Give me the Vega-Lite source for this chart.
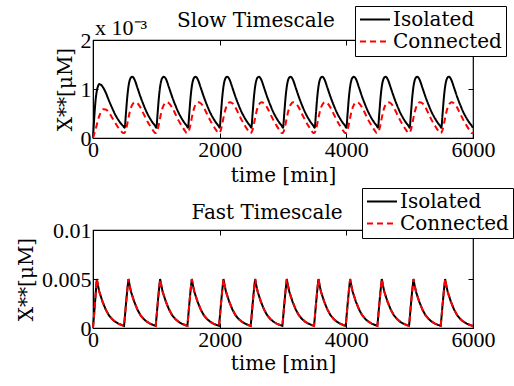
{
"$schema":"https://vega.github.io/schema/vega-lite/v6.json",
"background":"white",
"padding":{"left":15,"top":4,"right":0,"bottom":0},
"config":{
 "font":"DejaVu Serif",
 "view":{"stroke":"black","strokeWidth":1.2},
 "axis":{"grid":false,"domainColor":"black","domainWidth":1,"tickColor":"black","tickSize":-5,"tickWidth":1,"labelColor":"black","labelFont":"Liberation Serif","labelFontSize":22,"labelPadding":6,"labelFlush":false,"labelOverlap":false,"titleColor":"black","titleFont":"DejaVu Serif","titleFontSize":20,"titleFontWeight":"normal"},
 "legend":{"orient":"none","direction":"vertical","strokeColor":"black","fillColor":"white","padding":4,"cornerRadius":0,"labelFont":"DejaVu Serif","labelFontSize":20,"labelColor":"black","symbolType":"stroke","symbolSize":900,"symbolStrokeWidth":2,"clipHeight":19,"rowPadding":1,"labelOffset":2,"labelLimit":300},
 "title":{"font":"DejaVu Serif","fontSize":20,"fontWeight":"normal","color":"black","baseline":"alphabetic"}
},
"datasets":{
"slow":[
{"t":0,"Isolated":0,"Connected":0},
{"t":20,"Isolated":0.00042,"Connected":0.00008},
{"t":40,"Isolated":0.00076,"Connected":0.00017},
{"t":60,"Isolated":0.00096,"Connected":0.00027},
{"t":80,"Isolated":0.00106,"Connected":0.00037},
{"t":100,"Isolated":0.0011,"Connected":0.00045},
{"t":120,"Isolated":0.00109,"Connected":0.00052},
{"t":140,"Isolated":0.00107,"Connected":0.000565},
{"t":160,"Isolated":0.00103,"Connected":0.000585},
{"t":200,"Isolated":0.00093,"Connected":0.00058},
{"t":250,"Isolated":0.00077,"Connected":0.00052},
{"t":300,"Isolated":0.00062,"Connected":0.00042},
{"t":350,"Isolated":0.00048,"Connected":0.00031},
{"t":400,"Isolated":0.00037,"Connected":0.00021},
{"t":450,"Isolated":0.00028,"Connected":0.00013},
{"t":480,"Isolated":0.00024,"Connected":0.0001},
{"t":500,"Isolated":0.00021,"Connected":0.00011},
{"t":520,"Isolated":0.0005,"Connected":0.00017},
{"t":540,"Isolated":0.00082,"Connected":0.00028},
{"t":560,"Isolated":0.00105,"Connected":0.00041},
{"t":580,"Isolated":0.00118,"Connected":0.00053},
{"t":600,"Isolated":0.001235,"Connected":0.00062},
{"t":620,"Isolated":0.00125,"Connected":0.00068},
{"t":640,"Isolated":0.00123,"Connected":0.000715},
{"t":660,"Isolated":0.00118,"Connected":0.00073},
{"t":700,"Isolated":0.00103,"Connected":0.00071},
{"t":750,"Isolated":0.00084,"Connected":0.00062},
{"t":800,"Isolated":0.00067,"Connected":0.00049},
{"t":850,"Isolated":0.00052,"Connected":0.00036},
{"t":900,"Isolated":0.0004,"Connected":0.00025},
{"t":950,"Isolated":0.0003,"Connected":0.00015},
{"t":980,"Isolated":0.00025,"Connected":0.0001},
{"t":1000,"Isolated":0.00021,"Connected":0.00011},
{"t":1020,"Isolated":0.0005,"Connected":0.00017},
{"t":1040,"Isolated":0.00082,"Connected":0.00028},
{"t":1060,"Isolated":0.00105,"Connected":0.00041},
{"t":1080,"Isolated":0.00118,"Connected":0.00053},
{"t":1100,"Isolated":0.001235,"Connected":0.00062},
{"t":1120,"Isolated":0.00125,"Connected":0.00068},
{"t":1140,"Isolated":0.00123,"Connected":0.000715},
{"t":1160,"Isolated":0.00118,"Connected":0.00073},
{"t":1200,"Isolated":0.00103,"Connected":0.00071},
{"t":1250,"Isolated":0.00084,"Connected":0.00062},
{"t":1300,"Isolated":0.00067,"Connected":0.00049},
{"t":1350,"Isolated":0.00052,"Connected":0.00036},
{"t":1400,"Isolated":0.0004,"Connected":0.00025},
{"t":1450,"Isolated":0.0003,"Connected":0.00015},
{"t":1480,"Isolated":0.00025,"Connected":0.0001},
{"t":1500,"Isolated":0.00021,"Connected":0.00011},
{"t":1520,"Isolated":0.0005,"Connected":0.00017},
{"t":1540,"Isolated":0.00082,"Connected":0.00028},
{"t":1560,"Isolated":0.00105,"Connected":0.00041},
{"t":1580,"Isolated":0.00118,"Connected":0.00053},
{"t":1600,"Isolated":0.001235,"Connected":0.00062},
{"t":1620,"Isolated":0.00125,"Connected":0.00068},
{"t":1640,"Isolated":0.00123,"Connected":0.000715},
{"t":1660,"Isolated":0.00118,"Connected":0.00073},
{"t":1700,"Isolated":0.00103,"Connected":0.00071},
{"t":1750,"Isolated":0.00084,"Connected":0.00062},
{"t":1800,"Isolated":0.00067,"Connected":0.00049},
{"t":1850,"Isolated":0.00052,"Connected":0.00036},
{"t":1900,"Isolated":0.0004,"Connected":0.00025},
{"t":1950,"Isolated":0.0003,"Connected":0.00015},
{"t":1980,"Isolated":0.00025,"Connected":0.0001},
{"t":2000,"Isolated":0.00021,"Connected":0.00011},
{"t":2020,"Isolated":0.0005,"Connected":0.00017},
{"t":2040,"Isolated":0.00082,"Connected":0.00028},
{"t":2060,"Isolated":0.00105,"Connected":0.00041},
{"t":2080,"Isolated":0.00118,"Connected":0.00053},
{"t":2100,"Isolated":0.001235,"Connected":0.00062},
{"t":2120,"Isolated":0.00125,"Connected":0.00068},
{"t":2140,"Isolated":0.00123,"Connected":0.000715},
{"t":2160,"Isolated":0.00118,"Connected":0.00073},
{"t":2200,"Isolated":0.00103,"Connected":0.00071},
{"t":2250,"Isolated":0.00084,"Connected":0.00062},
{"t":2300,"Isolated":0.00067,"Connected":0.00049},
{"t":2350,"Isolated":0.00052,"Connected":0.00036},
{"t":2400,"Isolated":0.0004,"Connected":0.00025},
{"t":2450,"Isolated":0.0003,"Connected":0.00015},
{"t":2480,"Isolated":0.00025,"Connected":0.0001},
{"t":2500,"Isolated":0.00021,"Connected":0.00011},
{"t":2520,"Isolated":0.0005,"Connected":0.00017},
{"t":2540,"Isolated":0.00082,"Connected":0.00028},
{"t":2560,"Isolated":0.00105,"Connected":0.00041},
{"t":2580,"Isolated":0.00118,"Connected":0.00053},
{"t":2600,"Isolated":0.001235,"Connected":0.00062},
{"t":2620,"Isolated":0.00125,"Connected":0.00068},
{"t":2640,"Isolated":0.00123,"Connected":0.000715},
{"t":2660,"Isolated":0.00118,"Connected":0.00073},
{"t":2700,"Isolated":0.00103,"Connected":0.00071},
{"t":2750,"Isolated":0.00084,"Connected":0.00062},
{"t":2800,"Isolated":0.00067,"Connected":0.00049},
{"t":2850,"Isolated":0.00052,"Connected":0.00036},
{"t":2900,"Isolated":0.0004,"Connected":0.00025},
{"t":2950,"Isolated":0.0003,"Connected":0.00015},
{"t":2980,"Isolated":0.00025,"Connected":0.0001},
{"t":3000,"Isolated":0.00021,"Connected":0.00011},
{"t":3020,"Isolated":0.0005,"Connected":0.00017},
{"t":3040,"Isolated":0.00082,"Connected":0.00028},
{"t":3060,"Isolated":0.00105,"Connected":0.00041},
{"t":3080,"Isolated":0.00118,"Connected":0.00053},
{"t":3100,"Isolated":0.001235,"Connected":0.00062},
{"t":3120,"Isolated":0.00125,"Connected":0.00068},
{"t":3140,"Isolated":0.00123,"Connected":0.000715},
{"t":3160,"Isolated":0.00118,"Connected":0.00073},
{"t":3200,"Isolated":0.00103,"Connected":0.00071},
{"t":3250,"Isolated":0.00084,"Connected":0.00062},
{"t":3300,"Isolated":0.00067,"Connected":0.00049},
{"t":3350,"Isolated":0.00052,"Connected":0.00036},
{"t":3400,"Isolated":0.0004,"Connected":0.00025},
{"t":3450,"Isolated":0.0003,"Connected":0.00015},
{"t":3480,"Isolated":0.00025,"Connected":0.0001},
{"t":3500,"Isolated":0.00021,"Connected":0.00011},
{"t":3520,"Isolated":0.0005,"Connected":0.00017},
{"t":3540,"Isolated":0.00082,"Connected":0.00028},
{"t":3560,"Isolated":0.00105,"Connected":0.00041},
{"t":3580,"Isolated":0.00118,"Connected":0.00053},
{"t":3600,"Isolated":0.001235,"Connected":0.00062},
{"t":3620,"Isolated":0.00125,"Connected":0.00068},
{"t":3640,"Isolated":0.00123,"Connected":0.000715},
{"t":3660,"Isolated":0.00118,"Connected":0.00073},
{"t":3700,"Isolated":0.00103,"Connected":0.00071},
{"t":3750,"Isolated":0.00084,"Connected":0.00062},
{"t":3800,"Isolated":0.00067,"Connected":0.00049},
{"t":3850,"Isolated":0.00052,"Connected":0.00036},
{"t":3900,"Isolated":0.0004,"Connected":0.00025},
{"t":3950,"Isolated":0.0003,"Connected":0.00015},
{"t":3980,"Isolated":0.00025,"Connected":0.0001},
{"t":4000,"Isolated":0.00021,"Connected":0.00011},
{"t":4020,"Isolated":0.0005,"Connected":0.00017},
{"t":4040,"Isolated":0.00082,"Connected":0.00028},
{"t":4060,"Isolated":0.00105,"Connected":0.00041},
{"t":4080,"Isolated":0.00118,"Connected":0.00053},
{"t":4100,"Isolated":0.001235,"Connected":0.00062},
{"t":4120,"Isolated":0.00125,"Connected":0.00068},
{"t":4140,"Isolated":0.00123,"Connected":0.000715},
{"t":4160,"Isolated":0.00118,"Connected":0.00073},
{"t":4200,"Isolated":0.00103,"Connected":0.00071},
{"t":4250,"Isolated":0.00084,"Connected":0.00062},
{"t":4300,"Isolated":0.00067,"Connected":0.00049},
{"t":4350,"Isolated":0.00052,"Connected":0.00036},
{"t":4400,"Isolated":0.0004,"Connected":0.00025},
{"t":4450,"Isolated":0.0003,"Connected":0.00015},
{"t":4480,"Isolated":0.00025,"Connected":0.0001},
{"t":4500,"Isolated":0.00021,"Connected":0.00011},
{"t":4520,"Isolated":0.0005,"Connected":0.00017},
{"t":4540,"Isolated":0.00082,"Connected":0.00028},
{"t":4560,"Isolated":0.00105,"Connected":0.00041},
{"t":4580,"Isolated":0.00118,"Connected":0.00053},
{"t":4600,"Isolated":0.001235,"Connected":0.00062},
{"t":4620,"Isolated":0.00125,"Connected":0.00068},
{"t":4640,"Isolated":0.00123,"Connected":0.000715},
{"t":4660,"Isolated":0.00118,"Connected":0.00073},
{"t":4700,"Isolated":0.00103,"Connected":0.00071},
{"t":4750,"Isolated":0.00084,"Connected":0.00062},
{"t":4800,"Isolated":0.00067,"Connected":0.00049},
{"t":4850,"Isolated":0.00052,"Connected":0.00036},
{"t":4900,"Isolated":0.0004,"Connected":0.00025},
{"t":4950,"Isolated":0.0003,"Connected":0.00015},
{"t":4980,"Isolated":0.00025,"Connected":0.0001},
{"t":5000,"Isolated":0.00021,"Connected":0.00011},
{"t":5020,"Isolated":0.0005,"Connected":0.00017},
{"t":5040,"Isolated":0.00082,"Connected":0.00028},
{"t":5060,"Isolated":0.00105,"Connected":0.00041},
{"t":5080,"Isolated":0.00118,"Connected":0.00053},
{"t":5100,"Isolated":0.001235,"Connected":0.00062},
{"t":5120,"Isolated":0.00125,"Connected":0.00068},
{"t":5140,"Isolated":0.00123,"Connected":0.000715},
{"t":5160,"Isolated":0.00118,"Connected":0.00073},
{"t":5200,"Isolated":0.00103,"Connected":0.00071},
{"t":5250,"Isolated":0.00084,"Connected":0.00062},
{"t":5300,"Isolated":0.00067,"Connected":0.00049},
{"t":5350,"Isolated":0.00052,"Connected":0.00036},
{"t":5400,"Isolated":0.0004,"Connected":0.00025},
{"t":5450,"Isolated":0.0003,"Connected":0.00015},
{"t":5480,"Isolated":0.00025,"Connected":0.0001},
{"t":5500,"Isolated":0.00021,"Connected":0.00011},
{"t":5520,"Isolated":0.0005,"Connected":0.00017},
{"t":5540,"Isolated":0.00082,"Connected":0.00028},
{"t":5560,"Isolated":0.00105,"Connected":0.00041},
{"t":5580,"Isolated":0.00118,"Connected":0.00053},
{"t":5600,"Isolated":0.001235,"Connected":0.00062},
{"t":5620,"Isolated":0.00125,"Connected":0.00068},
{"t":5640,"Isolated":0.00123,"Connected":0.000715},
{"t":5660,"Isolated":0.00118,"Connected":0.00073},
{"t":5700,"Isolated":0.00103,"Connected":0.00071},
{"t":5750,"Isolated":0.00084,"Connected":0.00062},
{"t":5800,"Isolated":0.00067,"Connected":0.00049},
{"t":5850,"Isolated":0.00052,"Connected":0.00036},
{"t":5900,"Isolated":0.0004,"Connected":0.00025},
{"t":5950,"Isolated":0.0003,"Connected":0.00015},
{"t":5980,"Isolated":0.00025,"Connected":0.0001},
{"t":6000,"Isolated":0.00021,"Connected":0.00011}
],
"fast":[
{"t":0,"Isolated":0,"Connected":0},
{"t":20,"Isolated":0.0016,"Connected":0.0016},
{"t":40,"Isolated":0.0033,"Connected":0.0033},
{"t":60,"Isolated":0.005,"Connected":0.005},
{"t":80,"Isolated":0.0043,"Connected":0.0043},
{"t":100,"Isolated":0.0037,"Connected":0.0037},
{"t":125,"Isolated":0.0032,"Connected":0.0032},
{"t":150,"Isolated":0.0027,"Connected":0.0027},
{"t":200,"Isolated":0.0019,"Connected":0.0019},
{"t":250,"Isolated":0.0013,"Connected":0.0013},
{"t":300,"Isolated":0.00092,"Connected":0.00092},
{"t":350,"Isolated":0.00064,"Connected":0.00064},
{"t":400,"Isolated":0.00045,"Connected":0.00045},
{"t":450,"Isolated":0.00031,"Connected":0.00031},
{"t":490,"Isolated":0.00022,"Connected":0.00022},
{"t":500,"Isolated":0.0009,"Connected":0.0009},
{"t":520,"Isolated":0.0024,"Connected":0.0024},
{"t":540,"Isolated":0.0038,"Connected":0.0038},
{"t":560,"Isolated":0.005,"Connected":0.005},
{"t":580,"Isolated":0.0043,"Connected":0.0043},
{"t":600,"Isolated":0.0037,"Connected":0.0037},
{"t":625,"Isolated":0.0032,"Connected":0.0032},
{"t":650,"Isolated":0.0027,"Connected":0.0027},
{"t":700,"Isolated":0.0019,"Connected":0.0019},
{"t":750,"Isolated":0.0013,"Connected":0.0013},
{"t":800,"Isolated":0.00092,"Connected":0.00092},
{"t":850,"Isolated":0.00064,"Connected":0.00064},
{"t":900,"Isolated":0.00045,"Connected":0.00045},
{"t":950,"Isolated":0.00031,"Connected":0.00031},
{"t":990,"Isolated":0.00022,"Connected":0.00022},
{"t":1000,"Isolated":0.0009,"Connected":0.0009},
{"t":1020,"Isolated":0.0024,"Connected":0.0024},
{"t":1040,"Isolated":0.0038,"Connected":0.0038},
{"t":1060,"Isolated":0.005,"Connected":0.005},
{"t":1080,"Isolated":0.0043,"Connected":0.0043},
{"t":1100,"Isolated":0.0037,"Connected":0.0037},
{"t":1125,"Isolated":0.0032,"Connected":0.0032},
{"t":1150,"Isolated":0.0027,"Connected":0.0027},
{"t":1200,"Isolated":0.0019,"Connected":0.0019},
{"t":1250,"Isolated":0.0013,"Connected":0.0013},
{"t":1300,"Isolated":0.00092,"Connected":0.00092},
{"t":1350,"Isolated":0.00064,"Connected":0.00064},
{"t":1400,"Isolated":0.00045,"Connected":0.00045},
{"t":1450,"Isolated":0.00031,"Connected":0.00031},
{"t":1490,"Isolated":0.00022,"Connected":0.00022},
{"t":1500,"Isolated":0.0009,"Connected":0.0009},
{"t":1520,"Isolated":0.0024,"Connected":0.0024},
{"t":1540,"Isolated":0.0038,"Connected":0.0038},
{"t":1560,"Isolated":0.005,"Connected":0.005},
{"t":1580,"Isolated":0.0043,"Connected":0.0043},
{"t":1600,"Isolated":0.0037,"Connected":0.0037},
{"t":1625,"Isolated":0.0032,"Connected":0.0032},
{"t":1650,"Isolated":0.0027,"Connected":0.0027},
{"t":1700,"Isolated":0.0019,"Connected":0.0019},
{"t":1750,"Isolated":0.0013,"Connected":0.0013},
{"t":1800,"Isolated":0.00092,"Connected":0.00092},
{"t":1850,"Isolated":0.00064,"Connected":0.00064},
{"t":1900,"Isolated":0.00045,"Connected":0.00045},
{"t":1950,"Isolated":0.00031,"Connected":0.00031},
{"t":1990,"Isolated":0.00022,"Connected":0.00022},
{"t":2000,"Isolated":0.0009,"Connected":0.0009},
{"t":2020,"Isolated":0.0024,"Connected":0.0024},
{"t":2040,"Isolated":0.0038,"Connected":0.0038},
{"t":2060,"Isolated":0.005,"Connected":0.005},
{"t":2080,"Isolated":0.0043,"Connected":0.0043},
{"t":2100,"Isolated":0.0037,"Connected":0.0037},
{"t":2125,"Isolated":0.0032,"Connected":0.0032},
{"t":2150,"Isolated":0.0027,"Connected":0.0027},
{"t":2200,"Isolated":0.0019,"Connected":0.0019},
{"t":2250,"Isolated":0.0013,"Connected":0.0013},
{"t":2300,"Isolated":0.00092,"Connected":0.00092},
{"t":2350,"Isolated":0.00064,"Connected":0.00064},
{"t":2400,"Isolated":0.00045,"Connected":0.00045},
{"t":2450,"Isolated":0.00031,"Connected":0.00031},
{"t":2490,"Isolated":0.00022,"Connected":0.00022},
{"t":2500,"Isolated":0.0009,"Connected":0.0009},
{"t":2520,"Isolated":0.0024,"Connected":0.0024},
{"t":2540,"Isolated":0.0038,"Connected":0.0038},
{"t":2560,"Isolated":0.005,"Connected":0.005},
{"t":2580,"Isolated":0.0043,"Connected":0.0043},
{"t":2600,"Isolated":0.0037,"Connected":0.0037},
{"t":2625,"Isolated":0.0032,"Connected":0.0032},
{"t":2650,"Isolated":0.0027,"Connected":0.0027},
{"t":2700,"Isolated":0.0019,"Connected":0.0019},
{"t":2750,"Isolated":0.0013,"Connected":0.0013},
{"t":2800,"Isolated":0.00092,"Connected":0.00092},
{"t":2850,"Isolated":0.00064,"Connected":0.00064},
{"t":2900,"Isolated":0.00045,"Connected":0.00045},
{"t":2950,"Isolated":0.00031,"Connected":0.00031},
{"t":2990,"Isolated":0.00022,"Connected":0.00022},
{"t":3000,"Isolated":0.0009,"Connected":0.0009},
{"t":3020,"Isolated":0.0024,"Connected":0.0024},
{"t":3040,"Isolated":0.0038,"Connected":0.0038},
{"t":3060,"Isolated":0.005,"Connected":0.005},
{"t":3080,"Isolated":0.0043,"Connected":0.0043},
{"t":3100,"Isolated":0.0037,"Connected":0.0037},
{"t":3125,"Isolated":0.0032,"Connected":0.0032},
{"t":3150,"Isolated":0.0027,"Connected":0.0027},
{"t":3200,"Isolated":0.0019,"Connected":0.0019},
{"t":3250,"Isolated":0.0013,"Connected":0.0013},
{"t":3300,"Isolated":0.00092,"Connected":0.00092},
{"t":3350,"Isolated":0.00064,"Connected":0.00064},
{"t":3400,"Isolated":0.00045,"Connected":0.00045},
{"t":3450,"Isolated":0.00031,"Connected":0.00031},
{"t":3490,"Isolated":0.00022,"Connected":0.00022},
{"t":3500,"Isolated":0.0009,"Connected":0.0009},
{"t":3520,"Isolated":0.0024,"Connected":0.0024},
{"t":3540,"Isolated":0.0038,"Connected":0.0038},
{"t":3560,"Isolated":0.005,"Connected":0.005},
{"t":3580,"Isolated":0.0043,"Connected":0.0043},
{"t":3600,"Isolated":0.0037,"Connected":0.0037},
{"t":3625,"Isolated":0.0032,"Connected":0.0032},
{"t":3650,"Isolated":0.0027,"Connected":0.0027},
{"t":3700,"Isolated":0.0019,"Connected":0.0019},
{"t":3750,"Isolated":0.0013,"Connected":0.0013},
{"t":3800,"Isolated":0.00092,"Connected":0.00092},
{"t":3850,"Isolated":0.00064,"Connected":0.00064},
{"t":3900,"Isolated":0.00045,"Connected":0.00045},
{"t":3950,"Isolated":0.00031,"Connected":0.00031},
{"t":3990,"Isolated":0.00022,"Connected":0.00022},
{"t":4000,"Isolated":0.0009,"Connected":0.0009},
{"t":4020,"Isolated":0.0024,"Connected":0.0024},
{"t":4040,"Isolated":0.0038,"Connected":0.0038},
{"t":4060,"Isolated":0.005,"Connected":0.005},
{"t":4080,"Isolated":0.0043,"Connected":0.0043},
{"t":4100,"Isolated":0.0037,"Connected":0.0037},
{"t":4125,"Isolated":0.0032,"Connected":0.0032},
{"t":4150,"Isolated":0.0027,"Connected":0.0027},
{"t":4200,"Isolated":0.0019,"Connected":0.0019},
{"t":4250,"Isolated":0.0013,"Connected":0.0013},
{"t":4300,"Isolated":0.00092,"Connected":0.00092},
{"t":4350,"Isolated":0.00064,"Connected":0.00064},
{"t":4400,"Isolated":0.00045,"Connected":0.00045},
{"t":4450,"Isolated":0.00031,"Connected":0.00031},
{"t":4490,"Isolated":0.00022,"Connected":0.00022},
{"t":4500,"Isolated":0.0009,"Connected":0.0009},
{"t":4520,"Isolated":0.0024,"Connected":0.0024},
{"t":4540,"Isolated":0.0038,"Connected":0.0038},
{"t":4560,"Isolated":0.005,"Connected":0.005},
{"t":4580,"Isolated":0.0043,"Connected":0.0043},
{"t":4600,"Isolated":0.0037,"Connected":0.0037},
{"t":4625,"Isolated":0.0032,"Connected":0.0032},
{"t":4650,"Isolated":0.0027,"Connected":0.0027},
{"t":4700,"Isolated":0.0019,"Connected":0.0019},
{"t":4750,"Isolated":0.0013,"Connected":0.0013},
{"t":4800,"Isolated":0.00092,"Connected":0.00092},
{"t":4850,"Isolated":0.00064,"Connected":0.00064},
{"t":4900,"Isolated":0.00045,"Connected":0.00045},
{"t":4950,"Isolated":0.00031,"Connected":0.00031},
{"t":4990,"Isolated":0.00022,"Connected":0.00022},
{"t":5000,"Isolated":0.0009,"Connected":0.0009},
{"t":5020,"Isolated":0.0024,"Connected":0.0024},
{"t":5040,"Isolated":0.0038,"Connected":0.0038},
{"t":5060,"Isolated":0.005,"Connected":0.005},
{"t":5080,"Isolated":0.0043,"Connected":0.0043},
{"t":5100,"Isolated":0.0037,"Connected":0.0037},
{"t":5125,"Isolated":0.0032,"Connected":0.0032},
{"t":5150,"Isolated":0.0027,"Connected":0.0027},
{"t":5200,"Isolated":0.0019,"Connected":0.0019},
{"t":5250,"Isolated":0.0013,"Connected":0.0013},
{"t":5300,"Isolated":0.00092,"Connected":0.00092},
{"t":5350,"Isolated":0.00064,"Connected":0.00064},
{"t":5400,"Isolated":0.00045,"Connected":0.00045},
{"t":5450,"Isolated":0.00031,"Connected":0.00031},
{"t":5490,"Isolated":0.00022,"Connected":0.00022},
{"t":5500,"Isolated":0.0009,"Connected":0.0009},
{"t":5520,"Isolated":0.0024,"Connected":0.0024},
{"t":5540,"Isolated":0.0038,"Connected":0.0038},
{"t":5560,"Isolated":0.005,"Connected":0.005},
{"t":5580,"Isolated":0.0043,"Connected":0.0043},
{"t":5600,"Isolated":0.0037,"Connected":0.0037},
{"t":5625,"Isolated":0.0032,"Connected":0.0032},
{"t":5650,"Isolated":0.0027,"Connected":0.0027},
{"t":5700,"Isolated":0.0019,"Connected":0.0019},
{"t":5750,"Isolated":0.0013,"Connected":0.0013},
{"t":5800,"Isolated":0.00092,"Connected":0.00092},
{"t":5850,"Isolated":0.00064,"Connected":0.00064},
{"t":5900,"Isolated":0.00045,"Connected":0.00045},
{"t":5950,"Isolated":0.00031,"Connected":0.00031},
{"t":6000,"Isolated":0.0002,"Connected":0.0002}
]
},
"spacing":92,
"bounds":"flush",
"resolve":{"scale":{"color":"independent","strokeDash":"independent"},"legend":{"color":"independent","strokeDash":"independent"}},
"vconcat":[
{
"width":380,"height":98,
"title":{"text":"Slow Timescale","frame":"group","offset":-25,"dx":-27},
"data":{"name":"slow"},
"resolve":{"axis":{"x":"independent","y":"independent"}},
"layer":[
 {"transform":[{"fold":["Isolated","Connected"],"as":["series","v"]}],
  "mark":{"type":"line","interpolate":"monotone","strokeWidth":2},
  "encoding":{
   "x":{"field":"t","type":"quantitative","scale":{"domain":[0,6000],"nice":false},"axis":{"orient":"bottom","values":[0,2000,4000,6000],"format":"d","title":"time [min]","titleFontWeight":"normal","titlePadding":5}},
   "y":{"field":"v","type":"quantitative","scale":{"domain":[0,0.002],"nice":false},"axis":{"orient":"left","values":[0,0.001,0.002],"labelExpr":"format(datum.value*1000,'d')","labelPadding":7,"title":"X**[μM]","titleFontWeight":"normal","titlePadding":5}},
   "color":{"field":"series","type":"nominal","scale":{"domain":["Isolated","Connected"],"range":["black","red"]},"legend":{"title":null,"legendX":262,"legendY":-34}},
   "strokeDash":{"field":"series","type":"nominal","scale":{"domain":["Isolated","Connected"],"range":[[1,0],[6,4]]},"legend":{"title":null,"legendX":262,"legendY":-34}}
  }},
 {"transform":[{"fold":["Isolated","Connected"],"as":["series","v"]}],
  "mark":{"type":"line","opacity":0},
  "encoding":{
   "x":{"field":"t","type":"quantitative","axis":{"orient":"top","labels":false,"title":null,"values":[0,2000,4000,6000],"domain":false}},
   "y":{"field":"v","type":"quantitative","axis":{"orient":"right","labels":false,"title":null,"values":[0,0.001,0.002],"domain":false}}
  }},
 {"data":{"values":[{"note":"x 10⁻³"}]},
  "mark":{"type":"text","align":"left","baseline":"alphabetic","fontSize":22,"dx":2,"dy":-5,"font":"Liberation Serif","color":"black"},
  "encoding":{"x":{"datum":0,"axis":null},"y":{"datum":0.002,"axis":null},"text":{"field":"note"}}}
]
},
{
"width":380,"height":98,
"title":{"text":"Fast Timescale","frame":"group","offset":-35,"dx":-16},
"data":{"name":"fast"},
"resolve":{"axis":{"x":"independent","y":"independent"}},
"layer":[
 {"transform":[{"fold":["Isolated","Connected"],"as":["series","v"]}],
  "mark":{"type":"line","strokeWidth":2},
  "encoding":{
   "x":{"field":"t","type":"quantitative","scale":{"domain":[0,6000],"nice":false},"axis":{"orient":"bottom","values":[0,2000,4000,6000],"format":"d","title":"time [min]","titleFontWeight":"normal","titlePadding":3}},
   "y":{"field":"v","type":"quantitative","scale":{"domain":[0,0.01],"nice":false},"axis":{"orient":"left","values":[0,0.005,0.01],"format":"~g","labelPadding":7,"title":"X**[μM]","titleFontWeight":"normal","titlePadding":5}},
   "color":{"field":"series","type":"nominal","scale":{"domain":["Isolated","Connected"],"range":["black","red"]},"legend":{"title":null,"legendX":269,"legendY":-42}},
   "strokeDash":{"field":"series","type":"nominal","scale":{"domain":["Isolated","Connected"],"range":[[1,0],[6,4]]},"legend":{"title":null,"legendX":269,"legendY":-42}}
  }},
 {"transform":[{"fold":["Isolated","Connected"],"as":["series","v"]}],
  "mark":{"type":"line","opacity":0},
  "encoding":{
   "x":{"field":"t","type":"quantitative","axis":{"orient":"top","labels":false,"title":null,"values":[0,2000,4000,6000],"domain":false}},
   "y":{"field":"v","type":"quantitative","axis":{"orient":"right","labels":false,"title":null,"values":[0,0.005,0.01],"domain":false}}
  }}
]
}
]
}
